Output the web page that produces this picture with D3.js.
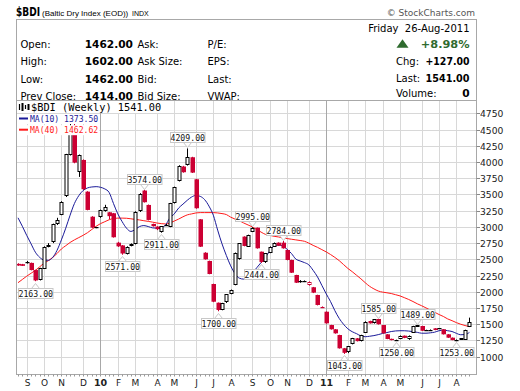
<!DOCTYPE html>
<html><head><meta charset="utf-8">
<script src="https://cdn.jsdelivr.net/npm/d3@7"></script>
<style>body{margin:0;background:#fff}svg{display:block}</style>
</head><body>
<svg id="c" width="520" height="391"></svg>
<script>
// ---- data (weekly $BDI, weeks starting Mon 24-Aug-2009) ----
const firstMonday = new Date(2009, 7, 24);
const opens  = [2430,2425,2440,2445,2335,2180,2362,2690,2757,3040,3194,3466,4110,4560,3852,4031,3543,3157,2985,3150,3240,3225,3210,2757,2715,2582,2706,2737,3237,3560,3338,3045,3005,2911,3020,3000,3365,3707,3930,3950,4073,3734,3117,2602,2475,2120,1832,1720,1832,1966,2105,2500,2850,2695,2926,2988,2618,2449,2600,2695,2757,2757,2644,2490,2259,2150,2160,2105,2070,1951,1770,1693,1488,1422,1334,1130,1060,1196,1283,1240,1370,1550,1514,1581,1488,1345,1275,1252,1273,1324,1283,1370,1465,1473,1405,1410,1437,1430,1422,1345,1293,1255,1262,1262,1462];
const highs  = [2440,2430,2475,2450,2340,2370,2700,2750,3050,3140,3395,4125,4661,4600,4115,4040,3550,3165,3000,3265,3340,3230,3215,2770,2720,2700,2745,3240,3520,3574,3345,3050,3010,3010,3045,3370,3620,3950,3940,4209,4080,3740,3120,2610,2480,2125,1835,1830,1965,2035,2605,2750,2855,2880,2995,2990,2620,2598,2700,2760,2762,2784,2648,2495,2262,2180,2175,2160,2075,1955,1775,1698,1492,1425,1338,1135,1165,1290,1288,1338,1545,1555,1580,1585,1490,1348,1278,1262,1328,1326,1328,1476,1489,1476,1416,1420,1440,1442,1425,1348,1296,1265,1288,1416,1602];
const lows   = [2400,2398,2435,2330,2163,2175,2355,2685,2750,3030,3180,3460,4100,3980,3770,3570,3255,2985,2980,3140,3235,3120,2835,2690,2571,2575,2700,2730,3230,3375,3100,3005,2950,2911,3015,2995,3360,3700,3835,3945,3830,3280,2690,2495,2270,1840,1700,1715,1828,1962,2100,2495,2700,2690,2920,2665,2444,2445,2595,2690,2705,2665,2485,2290,2135,2140,2150,2095,1980,1790,1750,1510,1418,1355,1125,1043,1055,1190,1235,1235,1365,1510,1510,1495,1355,1270,1252,1250,1270,1285,1260,1366,1460,1398,1400,1406,1408,1428,1342,1290,1254,1253,1258,1258,1462];
const closes = [2405,2400,2455,2335,2175,2365,2695,2715,3040,3105,3389,4119,4450,3990,4108,3580,3261,2988,2995,3260,3300,3165,2840,2700,2590,2695,2738,3237,3505,3380,3107,3010,2965,3006,3035,3365,3615,3943,3842,4073,3836,3287,2695,2500,2274,1847,1720,1823,1962,2028,2602,2748,2706,2875,2988,2670,2460,2593,2695,2757,2710,2670,2490,2294,2140,2162,2170,2155,1987,1797,1755,1514,1422,1360,1129,1060,1160,1283,1240,1334,1540,1514,1576,1500,1360,1273,1255,1258,1324,1290,1324,1473,1485,1400,1412,1415,1411,1437,1345,1293,1255,1260,1283,1414,1541];
const ma10 = [3140,3010,2870,2740,2610,2530,2490,2485,2530,2640,2800,2980,3180,3360,3480,3560,3600,3615,3620,3610,3585,3530,3360,3200,3080,2980,2930,2960,3005,3020,3005,2985,2980,2990,3030,3140,3200,3290,3350,3410,3460,3485,3470,3420,3320,3180,2950,2740,2560,2400,2280,2210,2195,2215,2290,2370,2450,2530,2630,2705,2720,2705,2655,2590,2505,2475,2450,2415,2330,2230,2100,1970,1850,1710,1590,1500,1430,1385,1355,1320,1308,1315,1325,1340,1358,1372,1388,1397,1400,1400,1395,1386,1375,1362,1362,1368,1378,1400,1410,1400,1388,1360,1338,1342,1373.5];
const ma40 = [2140,2190,2240,2285,2330,2385,2440,2480,2530,2590,2660,2710,2760,2800,2835,2870,2910,2960,3010,3050,3080,3110,3130,3135,3135,3133,3125,3115,3107,3095,3085,3073,3060,3050,3045,3060,3090,3120,3155,3185,3200,3215,3220,3220,3220,3220,3215,3205,3190,3150,3120,3095,3060,3030,3000,2960,2920,2885,2870,2855,2845,2830,2820,2810,2800,2790,2778,2750,2715,2685,2650,2615,2575,2530,2480,2420,2360,2310,2255,2200,2140,2085,2045,2012,1995,1985,1973,1955,1937,1910,1882,1850,1815,1785,1752,1718,1685,1650,1620,1582,1555,1525,1500,1480,1462.62];
const labelIndex = [4,24,29,33,39,46,54,56,61,75,83,87,92,101];
const labelValue = [2163,2571,3574,2911,4209,1700,2995,2444,2784,1043,1585,1250,1489,1253];
const labelSide  = ["low","low","high","low","high","low","high","low","high","low","high","low","high","low"];
const yTicks = [1000,1250,1500,1750,2000,2250,2500,2750,3000,3250,3500,3750,4000,4250,4500,4750];
const monthLetters = ["J","F","M","A","M","J","J","A","S","O","N","D"];

// ---- layout ----
const L = 16.5, R = 476.5, T = 100.5, B = 374.5;
const svg = d3.select("#c");
const x = d3.scaleLinear().domain([0, closes.length - 1]).range([18, 469.4]);
const y = d3.scaleLinear().domain([1000, 4750]).range([356.7, 113.3]);
const SANS = "'DejaVu Sans', Verdana, sans-serif";
const MONO = "'DejaVu Sans Mono', monospace";

// header
svg.append("text").attr("x", 16).attr("y", 16).attr("font-family", "'DejaVu Sans Condensed','DejaVu Sans',sans-serif")
  .attr("font-weight", "bold").attr("font-size", 12.5).attr("textLength", 24).attr("lengthAdjust", "spacingAndGlyphs").text("$BDI");
svg.append("text").attr("x", 42).attr("y", 16).attr("font-family", "'Liberation Sans', Arial, sans-serif")
  .attr("font-size", 8).text("(Baltic Dry Index (EOD))");
svg.append("text").attr("x", 132).attr("y", 15.5).attr("font-family", "'Liberation Sans', Arial, sans-serif")
  .attr("font-size", 7).text("INDX");
svg.append("text").attr("x", 475).attr("y", 15.5).attr("text-anchor", "end").attr("font-family", SANS)
  .attr("font-size", 9).attr("fill", "#555").text("© StockCharts.com");

// plot gridlines
const grid = svg.append("g");
grid.selectAll("line.h").data(yTicks).join("line")
  .attr("x1", L).attr("x2", R).attr("y1", d => Math.round(y(d)) + 0.5).attr("y2", d => Math.round(y(d)) + 0.5)
  .attr("stroke", "#d8d8d8");

const weekDate = i => d3.timeDay.offset(firstMonday, 7 * i);
const monthTicks = [];
for (let i = 1; i < closes.length; i++) {
  const d = weekDate(i), p = weekDate(i - 1);
  if (d.getMonth() !== p.getMonth()) {
    const yr = d.getMonth() === 0;
    monthTicks.push({i, label: yr ? String(d.getFullYear()).slice(2) : monthLetters[d.getMonth()], yr});
  }
}
grid.selectAll("line.v").data(monthTicks).join("line")
  .attr("x1", d => Math.round(x(d.i)) + 0.5).attr("x2", d => Math.round(x(d.i)) + 0.5)
  .attr("y1", T).attr("y2", B).attr("stroke", d => d.yr ? "#a8a8a8" : "#d8d8d8");

// frame
svg.append("rect").attr("x", L).attr("y", 19.5).attr("width", R - L).attr("height", B - 19.5)
  .attr("fill", "none").attr("stroke", "#a8a8a8");
svg.append("line").attr("x1", L).attr("x2", R).attr("y1", T).attr("y2", T).attr("stroke", "#a8a8a8");

// header info
const hdr = svg.append("g").attr("font-family", SANS).attr("font-size", 10);
const rowsY = [47.5, 65, 82.5, 99.5];
const leftLabels = ["Open:", "High:", "Low:", "Prev Close:"];
const leftVals = ["1462.00", "1602.00", "1462.00", "1414.00"];
const midLabels = ["Ask:", "Ask Size:", "Bid:", "Bid Size:"];
const rLabels = ["P/E:", "EPS:", "Last:", "VWAP:"];
rowsY.forEach((yy, k) => {
  hdr.append("text").attr("x", 20.5).attr("y", yy).text(leftLabels[k]);
  hdr.append("text").attr("x", 133).attr("y", yy).attr("text-anchor", "end").attr("font-weight", "bold").attr("font-size", 10.6).text(leftVals[k]);
  hdr.append("text").attr("x", 137.5).attr("y", yy).text(midLabels[k]);
  hdr.append("text").attr("x", 207.5).attr("y", yy).text(rLabels[k]);
});
hdr.append("text").attr("x", 469.5).attr("y", 31.5).attr("text-anchor", "end").text("Friday\u00a0\u00a026-Aug-2011");
hdr.append("path").attr("d", "M396.5,47.7 L402.5,39.3 L408.5,47.7 Z").attr("fill", "#2f6b2f");
hdr.append("text").attr("x", 469.5).attr("y", 48).attr("text-anchor", "end").attr("font-weight", "bold")
  .attr("font-size", 11.3).attr("fill", "#2f6b2f").text("+8.98%");
[["Chg:", "+127.00", 65], ["Last:", "1541.00", 82], ["Volume:", "0", 97]].forEach(([a, b, yy]) => {
  hdr.append("text").attr("x", 396).attr("y", yy).text(a);
  hdr.append("text").attr("x", 469.5).attr("y", yy).attr("text-anchor", "end").attr("font-weight", "bold")
    .attr("font-size", 10.6).attr("textLength", b.length > 1 ? 44 : null).attr("lengthAdjust", "spacingAndGlyphs").text(b);
});

// clip for plot
svg.append("clipPath").attr("id", "pc").append("rect").attr("x", L + 0.5).attr("y", T + 0.5).attr("width", R - L - 1).attr("height", B - T - 1);
const plot = svg.append("g").attr("clip-path", "url(#pc)");

// moving averages
const line = arr => d3.line().x((d, i) => x(i)).y(d => y(d)).curve(d3.curveMonotoneX)(arr);
plot.append("path").attr("d", line(ma40)).attr("fill", "none").attr("stroke", "#ff1a1a").attr("stroke-width", 1);
plot.append("path").attr("d", line(ma10)).attr("fill", "none").attr("stroke", "#1a1a99").attr("stroke-width", 1);

// candles
const RED = "#cc0033";
const cdl = plot.append("g");
closes.forEach((c, i) => {
  const o = opens[i], h = highs[i], l = lows[i];
  const prev = i > 0 ? closes[i - 1] : o;
  const col = c < prev ? RED : "#000";
  const cx = Math.round(x(i));
  cdl.append("line").attr("x1", cx + 0.5).attr("x2", cx + 0.5).attr("y1", y(h)).attr("y2", y(l)).attr("stroke", col);
  const top = y(Math.max(o, c)), bot = y(Math.min(o, c));
  if (bot - top < 1.2) {
    cdl.append("rect").attr("x", cx - 1.5).attr("y", Math.round(top)).attr("width", 4).attr("height", 1.2).attr("fill", col);
  } else if (c > o) {
    cdl.append("rect").attr("x", cx - 1).attr("y", Math.round(top) + 0.5).attr("width", 3).attr("height", Math.max(1, Math.round(bot - top) - 1))
      .attr("fill", "#fff").attr("stroke", col);
  } else {
    cdl.append("rect").attr("x", cx - 1.5).attr("y", top).attr("width", 4.5).attr("height", bot - top).attr("fill", col);
  }
});

// annotations
const ann = plot.append("g").attr("font-family", MONO).attr("font-size", 8.2);
labelIndex.forEach((idx, k) => {
  const v = labelValue[k], cx = Math.round(x(idx)) + 0.5, bw = 34.5, bh = 10;
  let by, tri;
  if (labelSide[k] === "low") {
    by = Math.round(y(v) + 6.5) + 0.5;
    tri = `M${cx - 4},${by} L${cx},${by - 5} L${cx + 4},${by}`;
  } else {
    by = Math.round(y(v) - 6 - bh) + 0.5;
    tri = `M${cx - 4},${by + bh} L${cx},${by + bh + 5} L${cx + 4},${by + bh}`;
  }
  const bx = Math.round(cx - bw / 2) + 0.5;
  ann.append("path").attr("d", tri).attr("fill", "#fff").attr("stroke", "#c8c8c8");
  ann.append("rect").attr("x", bx).attr("y", by).attr("width", bw).attr("height", bh).attr("fill", "#fff").attr("stroke", "#c8c8c8");
  ann.append("text").attr("x", bx + bw / 2).attr("y", by + 8).attr("text-anchor", "middle").attr("fill", "#111").text(v.toFixed(2));
});

// legend
const leg = svg.append("g");
const legItems = [
  {t: "$BDI (Weekly) 1541.00", c: "#000", fs: 10.3, yy: 111, x0: 31},
  {t: "MA(10) 1373.50", c: "#1a1a99", fs: 8.1, yy: 122, x0: 30},
  {t: "MA(40) 1462.62", c: "#ff1a1a", fs: 8.1, yy: 133.2, x0: 30}
];
legItems.forEach((it, k) => {
  const bg = leg.append("rect").attr("fill", "#fff");
  const tx = leg.append("text").attr("x", it.x0).attr("y", it.yy).attr("font-family", MONO).attr("font-size", it.fs).attr("fill", it.c).text(it.t);
  const bb = tx.node().getBBox();
  bg.attr("x", 17).attr("y", bb.y).attr("width", bb.x + bb.width - 17 + 1).attr("height", bb.height);
  if (k > 0) leg.append("line").attr("x1", 19).attr("x2", 28).attr("y1", it.yy - 3.5).attr("y2", it.yy - 3.5).attr("stroke", it.c).attr("stroke-width", 2);
});
// small candlestick icon
[[19.5, 104, 110], [22.5, 103, 111], [25.5, 105, 109], [28.5, 104, 110]].forEach(([xx, a, b], k) => {
  leg.append("line").attr("x1", xx).attr("x2", xx).attr("y1", a).attr("y2", b).attr("stroke", "#000").attr("stroke-width", k % 2 ? 2 : 1.2);
});

// y axis
const ya = svg.append("g").attr("font-family", SANS).attr("font-size", 9.2).attr("fill", "#222");
yTicks.forEach(v => {
  const yy = Math.round(y(v)) + 0.5;
  ya.append("line").attr("x1", R).attr("x2", R + 3.5).attr("y1", yy).attr("y2", yy).attr("stroke", "#888");
  ya.append("text").attr("x", 480).attr("y", yy + 3.3).text(v);
});

// x axis
const xa = svg.append("g");
closes.forEach((c, i) => {
  xa.append("line").attr("x1", Math.round(x(i)) + 0.5).attr("x2", Math.round(x(i)) + 0.5).attr("y1", B).attr("y2", B + 2).attr("stroke", "#999");
});
xa.selectAll("text").data(monthTicks).join("text")
  .attr("x", d => Math.round(x(d.i)) + 0.5).attr("y", 386).attr("text-anchor", "middle")
  .attr("font-family", SANS).attr("font-size", d => d.yr ? 9.5 : 9).attr("font-weight", d => d.yr ? "bold" : "normal")
  .attr("fill", "#222").text(d => d.label);
</script>
</body></html>
